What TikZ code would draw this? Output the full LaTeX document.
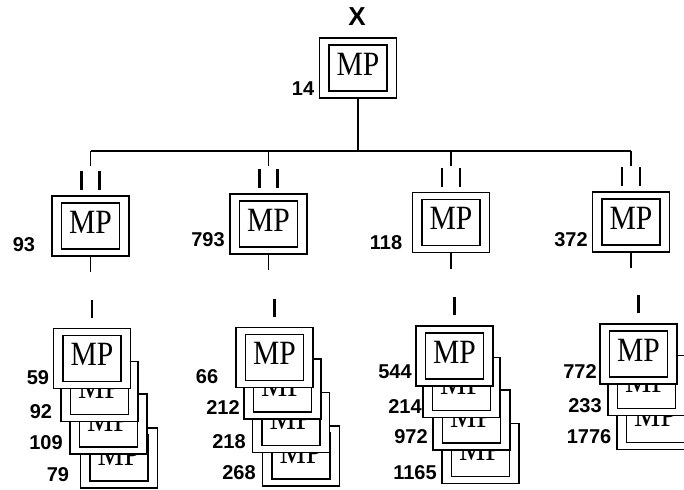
\documentclass[tikz,border=0pt]{standalone}
\usepackage{graphicx}
\usepackage{fontspec}
\setmainfont{Liberation Serif}
\newfontfamily\numfont{Liberation Sans}
\usetikzlibrary{calc}
\newcommand{\mptext}{\fontsize{17}{17}\selectfont\scalebox{0.87}[1]{MP}}
% card = outer frame with the MP window inside
\newcommand{\mpcard}[2]{%
  \node[card] (#1) at (#2) {};
  \node[window] (#1w) at (#1.center) {\mptext};}

\begin{document}
\begin{tikzpicture}[
    x=0.5pt,y=-0.5pt,
    card/.style={draw,fill=white,line width=0.8pt,minimum width=38.5pt,minimum height=30pt,inner sep=0pt,outer sep=0pt},
    window/.style={draw,line width=0.7pt,minimum width=29pt,minimum height=23pt,inner sep=0pt,text depth=4pt},
    num/.style={font=\numfont\bfseries\fontsize{10}{10}\selectfont,inner sep=0pt},
    link/.style={line width=0.8pt},
    tick/.style={line width=1.3pt}
  ]
    \useasboundingbox (0,0) rectangle (684,489);
    \clip (0,0) rectangle (684,489);

    % top
    \node[num,font=\numfont\bfseries\fontsize{13}{13}\selectfont] (x) at (357,17) {X};
    \mpcard{top}{358,68}
    \node[num] (n14) at (303,89) {14};

    % second row
    \mpcard{b1}{90.5,226}
    \mpcard{b2}{268.5,224}
    \mpcard{b3}{451,222.5}
    \mpcard{b4}{631,222}
    \node[num] (n93) at (24,245) {93};
    \node[num] (n793) at (208,240) {793};
    \node[num] (n118) at (386,243) {118};
    \node[num] (n372) at (571,240) {372};

    \coordinate (bus) at (358,151);
    \draw[link] (top) -- (bus);
    \draw[link] (b1 |- bus) -- (b4 |- bus);
    \foreach \b in {b1,b2,b3,b4}{
      \draw[link] (\b |- bus) -- +(0,15);
      \draw[tick] ($(\b.north)+(-9,-6)$) -- +(0,-19);
      \draw[tick] ($(\b.north)+(9,-6)$) -- +(0,-19);
      \draw[link] (\b.south) -- +(0,16);
    }

    % third row, back cards first
    \mpcard{g1d}{119,458}
    \mpcard{g1c}{108.5,424}
    \mpcard{g1b}{99.5,391.5}
    \mpcard{g1a}{92,358.5}
    \node[num] (n59) at (38,378) {59};
    \node[num] (n92) at (41,412) {92};
    \node[num] (n109) at (46,443) {109};
    \node[num] (n79) at (58,475) {79};

    \mpcard{g2d}{301,456}
    \mpcard{g2c}{291,422.5}
    \mpcard{g2b}{282.5,389}
    \mpcard{g2a}{274.5,357.5}
    \node[num] (n66) at (207,377) {66};
    \node[num] (n212) at (223,408) {212};
    \node[num] (n218) at (229,442) {218};
    \node[num] (n268) at (239,473) {268};

    \mpcard{g3d}{480.5,453.5}
    \mpcard{g3c}{471.5,420}
    \mpcard{g3b}{461.5,387.5}
    \mpcard{g3a}{454.5,356}
    \node[num] (n544) at (395,372) {544};
    \node[num] (n214) at (405,407) {214};
    \node[num] (n972) at (411,437) {972};
    \node[num] (n1165) at (415,473) {1165};

    \mpcard{g4c}{655.5,419.5}
    \mpcard{g4b}{646.5,385.5}
    \mpcard{g4a}{638.5,354}
    \node[num] (n772) at (580,372) {772};
    \node[num] (n233) at (585,406) {233};
    \node[num] (n1776) at (589,437) {1776};

    \foreach \f in {g1a,g2a,g3a,g4a}
      \draw[tick] ($(\f.north)+(0,-11)$) -- +(0,-18);
  \end{tikzpicture}
\end{document}
